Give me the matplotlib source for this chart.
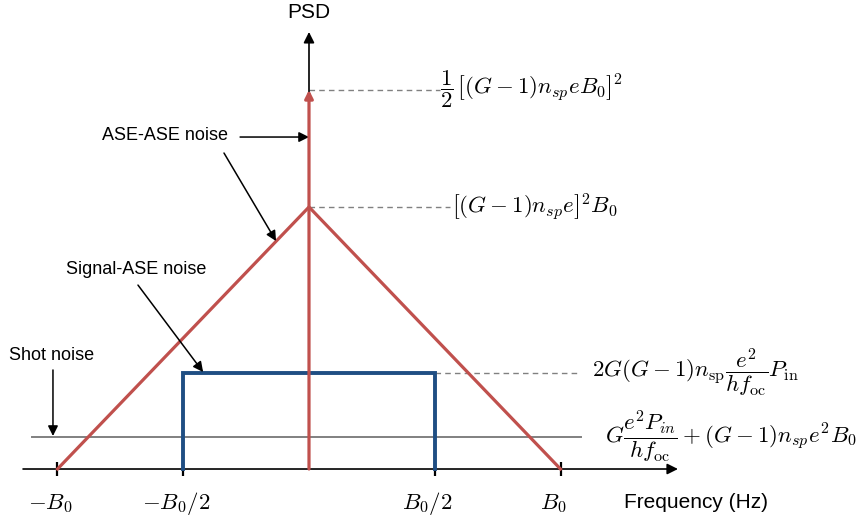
#!/usr/bin/env python3
"""
Sketch of the noise power spectral densities at the output of an optical
amplifier followed by a photodetector (shot, signal-ASE and ASE-ASE beat).
"""

import matplotlib.pyplot as plt

plt.rcParams['font.family'] = ['Liberation Sans', 'DejaVu Sans']
plt.rcParams['mathtext.fontset'] = 'cm'

# Frequency in units of B0, PSD in units of the ASE-ASE peak
freq_ticks = [-1.0, -0.5, 0.5, 1.0]
tick_labels = [r'$-B_0$', r'$-B_0/2$', r'$B_0/2$', r'$B_0$']

ase_ase_freq = [-1.0, 0.0, 1.0]
ase_ase_psd = [0.0, 1.0, 0.0]
ase_delta_level = 1.447

signal_ase_freq = [-0.5, -0.5, 0.5, 0.5]
signal_ase_psd = [0.0, 0.366, 0.366, 0.0]

shot_level = 0.122

RED = '#c0504d'
BLUE = '#1f4e83'
GRAY = '#808080'
MATH_SIZE = 16.5


def draw_axes(ax):
    """Hand-drawn frequency and PSD axes with arrow heads."""
    arrow = dict(arrowstyle='-|>', color='black', lw=1.2,
                 mutation_scale=16, shrinkA=0, shrinkB=0)
    ax.annotate('', xy=(1.467, 0), xytext=(-1.137, 0), arrowprops=arrow)
    ax.annotate('', xy=(0, 1.668), xytext=(0, 0), arrowprops=arrow)
    for f in freq_ticks:
        ax.plot([f, f], [-0.028, 0.028], color='black', lw=1.6,
                solid_capstyle='butt')
    for f, lab in zip(freq_ticks, tick_labels):
        ax.text(f - 0.03, -0.13, lab, ha='center', va='center',
                fontsize=MATH_SIZE)
    ax.text(1.539, -0.126, 'Frequency (Hz)', ha='center', va='center',
            fontsize=15)
    ax.text(0, 1.744, 'PSD', ha='center', va='center', fontsize=15)


def main():
    fig = plt.figure(figsize=(8.65, 5.19), dpi=100)
    ax = fig.add_axes([0, 0, 1, 1])
    ax.set_xlim(-1.2286, 2.2107)
    ax.set_ylim(-0.1908, 1.790)
    ax.axis('off')

    # shot noise floor
    ax.plot([-1.101, 1.081], [shot_level, shot_level], color=GRAY, lw=1.4)

    # guide lines to the level labels
    dash = dict(color=GRAY, lw=1.0, ls=(0, (4, 3)))
    ax.plot([0, 0.52], [ase_delta_level] * 2, **dash)
    ax.plot([0, 0.56], [max(ase_ase_psd)] * 2, **dash)
    ax.plot([0.5, 1.078], [signal_ase_psd[1]] * 2, **dash)

    draw_axes(ax)

    # ASE-ASE triangle and the DC delta
    ax.plot(ase_ase_freq, ase_ase_psd, color=RED, lw=2.3,
            solid_joinstyle='miter', zorder=3)
    ax.annotate('', xy=(0, ase_delta_level), xytext=(0, 0),
                arrowprops=dict(arrowstyle='-|>', color=RED, lw=2.3,
                                mutation_scale=12, shrinkA=0, shrinkB=0),
                zorder=4)

    # signal-ASE rectangle
    ax.plot(signal_ase_freq, signal_ase_psd, color=BLUE, lw=2.8,
            solid_joinstyle='miter', zorder=3)

    # level labels
    ax.text(0.521, ase_delta_level,
            r'$\dfrac{1}{2}\,\left[(G-1)n_{sp}eB_0\right]^2$',
            ha='left', va='center', fontsize=MATH_SIZE)
    ax.text(0.569, max(ase_ase_psd),
            r'$\left[(G-1)n_{sp}e\right]^2B_0$',
            ha='left', va='center', fontsize=MATH_SIZE)
    ax.text(1.125, signal_ase_psd[1],
            r'$2G(G-1)n_{\mathrm{sp}}\dfrac{e^2}{hf_{\mathrm{oc}}}P_{\mathrm{in}}$',
            ha='left', va='center', fontsize=MATH_SIZE)
    ax.text(1.177, shot_level,
            r'$G\dfrac{e^2P_{in}}{hf_{\mathrm{oc}}}+(G-1)n_{sp}e^2B_0$',
            ha='left', va='center', fontsize=MATH_SIZE)

    # callouts
    pointer = dict(arrowstyle='-|>', color='black', lw=1.1,
                   mutation_scale=15, shrinkA=0, shrinkB=0)
    ax.text(-0.573, 1.271, 'ASE-ASE noise', ha='center', va='center',
            fontsize=13)
    ax.annotate('', xy=(0, 1.267), xytext=(-0.274, 1.267), arrowprops=pointer)
    ax.annotate('', xy=(-0.131, 0.87), xytext=(-0.338, 1.206),
                arrowprops=pointer)
    ax.text(-0.688, 0.760, 'Signal-ASE noise', ha='center', va='center',
            fontsize=13)
    ax.annotate('', xy=(-0.421, 0.370), xytext=(-0.680, 0.702),
                arrowprops=pointer)
    ax.text(-1.022, 0.435, 'Shot noise', ha='center', va='center',
            fontsize=13)
    ax.annotate('', xy=(-1.018, 0.126), xytext=(-1.018, 0.378),
                arrowprops=pointer)

    fig.savefig('out.png', dpi=100)


if __name__ == '__main__':
    main()
